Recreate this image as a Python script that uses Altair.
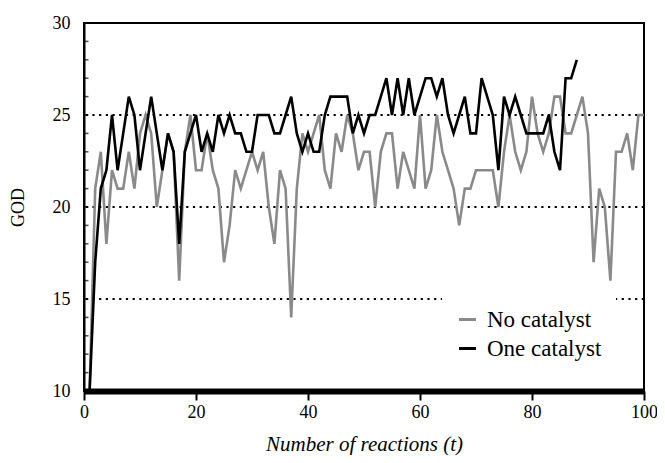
import altair as alt
import pandas as pd

# ---------------- data ----------------
t_no = list(range(0, 101))
god_no = [10, 10, 21, 23, 18, 22, 21, 21, 23, 21,
          24, 25, 24, 20, 22, 24, 23, 16, 23, 25,
          22, 22, 24, 22, 21, 17, 19, 22, 21, 22,
          23, 22, 23, 20, 18, 22, 21, 14, 21, 24,
          23, 24, 25, 22, 21, 24, 23, 25, 24, 22,
          23, 23, 20, 23, 24, 24, 21, 23, 22, 21,
          25, 21, 22, 25, 23, 22, 21, 19, 21, 21,
          22, 22, 22, 22, 20, 23, 25, 23, 22, 23,
          26, 24, 23, 24, 26, 26, 24, 24, 25, 26,
          24, 17, 21, 20, 16, 23, 23, 24, 22, 25,
          25]

t_one = list(range(0, 89))
god_one = [10, 10, 17, 21, 22, 25, 22, 24, 26, 25,
           22, 24, 26, 24, 22, 24, 23, 18, 23, 24,
           25, 23, 24, 23, 25, 24, 25, 24, 24, 23,
           23, 25, 25, 25, 24, 24, 25, 26, 24, 23,
           24, 23, 23, 25, 26, 26, 26, 26, 24, 25,
           24, 25, 25, 26, 27, 25, 27, 25, 27, 25,
           26, 27, 27, 26, 27, 25, 24, 25, 26, 24,
           24, 27, 26, 25, 22, 26, 25, 26, 25, 24,
           24, 24, 24, 25, 23, 22, 27, 27, 28]

series_names = ["No catalyst", "One catalyst"]
series_colors = ["#8a8a8a", "#000000"]
grid_levels = [15, 20, 25]
y_minor_ticks = list(range(10, 31))
x_tick_values = [0, 20, 40, 60, 80, 100]
y_tick_values = [10, 15, 20, 25, 30]

FONT = "'Liberation Serif', 'Times New Roman', Times, serif"

df = pd.concat([
    pd.DataFrame({"t": t_no, "god": god_no, "series": series_names[0]}),
    pd.DataFrame({"t": t_one, "god": god_one, "series": series_names[1]}),
], ignore_index=True)

grid_df = pd.DataFrame({"god": grid_levels})
minor_df = pd.DataFrame({"god": y_minor_ticks})

y_scale = alt.Scale(domain=[10, 30], nice=False, zero=False)
y_axis = alt.Axis(
    values=y_tick_values, title="GOD", titleFont=FONT, titleFontSize=18,
    titleFontWeight="normal", titleColor="black", titleX=-66, titleY=184,
    titleAngle=270, titleAlign="center", titleBaseline="middle",
    labelFont=FONT, labelFontSize=18, labelColor="black", labelPadding=14,
    ticks=False, tickSize=0, domainWidth=2, domainColor="black",
    grid=False, labelFlush=False,
)


def y_enc():
    return alt.Y("god:Q", scale=y_scale, axis=y_axis)


grid = alt.Chart(grid_df).mark_rule(
    color="black", strokeWidth=2.2, strokeDash=[2.2, 4.5]
).encode(y=y_enc())

minor = alt.Chart(minor_df).mark_tick(
    orient="horizontal", color="black", size=4, thickness=1.5
).encode(y=y_enc(), x=alt.value(2.5))

lines = alt.Chart(df).mark_line(strokeWidth=2.6, strokeJoin="miter").encode(
    x=alt.X(
        "t:Q",
        scale=alt.Scale(domain=[0, 100], nice=False),
        axis=alt.Axis(
            values=x_tick_values, title="Number of reactions (t)",
            titleFont=FONT, titleFontStyle="italic", titleFontWeight="normal",
            titleFontSize=21, titleColor="black", titleX=280, titleY=59,
            titleBaseline="alphabetic", titleAlign="center",
            labelFont=FONT, labelFontSize=18, labelColor="black",
            labelPadding=3, tickSize=9, tickWidth=2, tickColor="black",
            domainWidth=6, domainColor="black", grid=False, zindex=1,
            labelFlush=False, labelOverlap=False,
        ),
    ),
    y=y_enc(),
    color=alt.Color(
        "series:N",
        scale=alt.Scale(domain=series_names, range=series_colors),
        legend=alt.Legend(
            title=None, orient="none", legendX=358, legendY=271,
            fillColor="white", padding=14, labelFont=FONT, labelFontSize=23,
            labelColor="black", symbolType="stroke", symbolStrokeWidth=3,
            symbolSize=289, labelOffset=8, rowPadding=5,
        ),
    ),
    order=alt.Order("t:Q"),
)

chart = alt.layer(grid, minor, lines).properties(
    width=560, height=368,
    padding={"left": 76, "top": 15, "right": 13, "bottom": 64},
    autosize=alt.AutoSizeParams(type="none"),
).configure_view(stroke="black", strokeWidth=2)

chart.save("out.html", embed_options={"renderer": "svg", "actions": False})
